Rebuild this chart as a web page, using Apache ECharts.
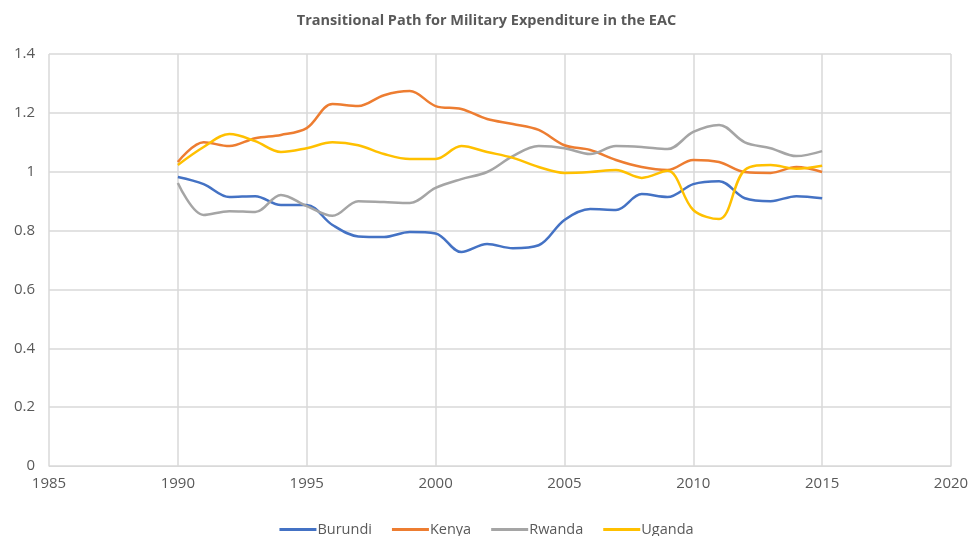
<!DOCTYPE html>
<html>
<head>
<meta charset="utf-8">
<title>Transitional Path for Military Expenditure in the EAC</title>
<script src="https://cdn.jsdelivr.net/npm/echarts@6/dist/echarts.min.js"></script>
<style>
	* { margin: 0; padding: 0 }
	html, body { width: 100%; height: 100%; background: #fff; }
	#main { width: 973px; height: 536px; }
</style>
</head>
<body>
<div id="main"></div>
<script>
	var years = [1990, 1991, 1992, 1993, 1994, 1995, 1996, 1997, 1998, 1999, 2000, 2001, 2002,
		2003, 2004, 2005, 2006, 2007, 2008, 2009, 2010, 2011, 2012, 2013, 2014, 2015];
	var burundi = [0.982, 0.958, 0.914, 0.917, 0.887, 0.887, 0.819, 0.78, 0.778, 0.795, 0.79, 0.727, 0.754,
		0.74, 0.75, 0.836, 0.873, 0.87, 0.924, 0.914, 0.958, 0.968, 0.91, 0.9, 0.917, 0.91];
	var kenya = [1.033, 1.10, 1.087, 1.114, 1.125, 1.148, 1.23, 1.223, 1.26, 1.274, 1.223, 1.213, 1.179,
		1.162, 1.142, 1.09, 1.074, 1.04, 1.016, 1.006, 1.04, 1.033, 0.999, 0.996, 1.016, 0.999];
	var rwanda = [0.962, 0.853, 0.866, 0.863, 0.921, 0.883, 0.85, 0.90, 0.897, 0.894, 0.945, 0.975, 0.999,
		1.053, 1.087, 1.08, 1.06, 1.087, 1.084, 1.077, 1.135, 1.159, 1.10, 1.08, 1.053, 1.07];
	var uganda = [1.023, 1.084, 1.128, 1.104, 1.067, 1.08, 1.10, 1.09, 1.06, 1.043, 1.043, 1.087, 1.067,
		1.047, 1.016, 0.996, 0.999, 1.006, 0.979, 1.003, 0.87, 0.839, 1.006, 1.023, 1.01, 1.02];

	function pairs(vals) {
		return years.map(function(y, i) { return [y, vals[i]]; });
	}
	function line(name, vals, color) {
		return {
			name: name,
			type: 'line',
			smooth: 0.35,
			symbol: 'none',
			data: pairs(vals),
			lineStyle: { width: 2.5, color: color },
			itemStyle: { color: color }
		};
	}

	var chart = echarts.init(document.getElementById('main'));
	var txt = '#595959';
	chart.setOption({
		animation: false,
		textStyle: { fontFamily: '"Open Sans", sans-serif' },
		title: {
			text: 'Transitional Path for Military Expenditure in the EAC',
			left: 'center',
			top: 8,
			textStyle: { fontSize: 14.5, fontWeight: 'bold', color: txt }
		},
		legend: {
			bottom: -6,
			left: 470,
			left: 'center',
			itemWidth: 37,
			itemHeight: 3,
			itemGap: 20,
			icon: 'rect',
			textStyle: { fontSize: 14.5, color: txt, padding: [0, 0, 0, -4] },
			data: ['Burundi', 'Kenya', 'Rwanda', 'Uganda']
		},
		grid: { left: 49, right: 22, top: 54, bottom: 70, containLabel: false },
		xAxis: {
			type: 'value',
			min: 1985,
			max: 2020,
			interval: 5,
			axisLine: { show: true, lineStyle: { color: '#d9d9d9' } },
			axisTick: { show: false },
			axisLabel: { color: txt, fontSize: 15, margin: 10, formatter: function(v) { return String(v); } },
			splitLine: { show: true, lineStyle: { color: '#d9d9d9', width: 1.5 } }
		},
		yAxis: {
			type: 'value',
			min: 0,
			max: 1.4,
			interval: 0.2,
			axisLine: { show: false },
			axisTick: { show: false },
			axisLabel: { color: txt, fontSize: 15, margin: 14 },
			splitLine: { show: true, lineStyle: { color: '#d9d9d9', width: 1.5 } }
		},
		series: [
			line('Burundi', burundi, '#4472C4'),
			line('Kenya', kenya, '#ED7D31'),
			line('Rwanda', rwanda, '#A5A5A5'),
			line('Uganda', uganda, '#FFC000')
		]
	});
</script>
</body>
</html>
